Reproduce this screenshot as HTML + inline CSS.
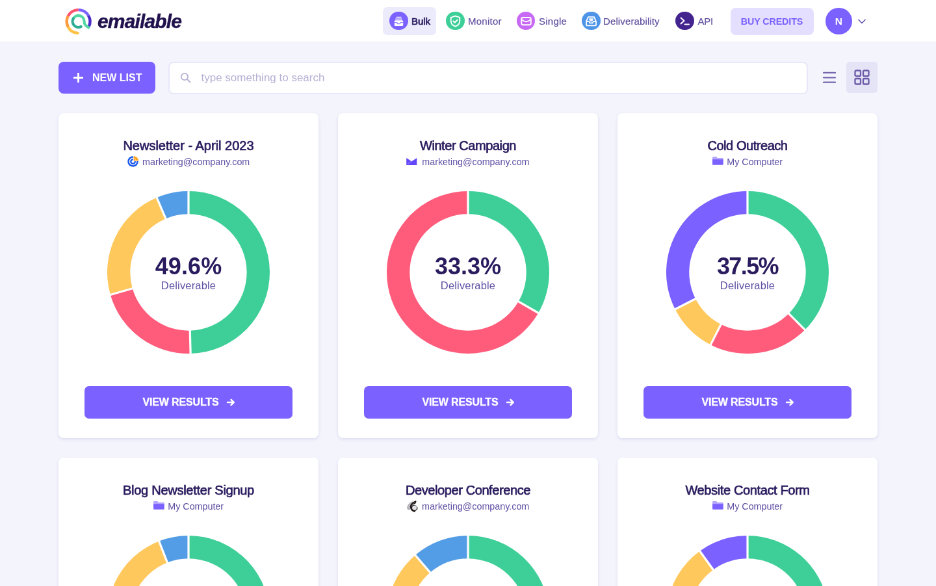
<!DOCTYPE html>
<html><head><meta charset="utf-8"><title>Emailable</title>
<style>
*{box-sizing:border-box;margin:0;padding:0}
html,body{width:936px;height:586px;overflow:hidden;background:#F4F4FD}
body{font-family:"Liberation Sans",sans-serif;color:#2A1B5E}
#app{position:absolute;left:0;top:0;width:1440px;height:902px;transform:scale(.65);transform-origin:0 0;background:#F4F4FD;will-change:transform}
#hdr{position:absolute;left:0;top:0;width:1440px;height:65px;background:#fff;border-bottom:1px solid #EBEBF8}
.abs{position:absolute}
#logo{position:absolute;left:98px;top:10px}
#brand{position:absolute;left:150px;top:12.800px;font-size:30px;font-weight:700;font-style:italic;color:#21124D;letter-spacing:-0.85px;-webkit-text-stroke:.5px #21124D;line-height:40px;white-space:nowrap}
.nav{position:absolute;top:11px;height:43px;border-radius:7px;white-space:nowrap}
.nav .ic{position:absolute;top:6.800px;width:28.500px;height:28.500px;border-radius:50%}
.nav .ic svg{position:absolute;left:.75px;top:.75px}
.nav .tx{position:absolute;top:-.5px;line-height:43px;font-size:15px;letter-spacing:.25px;color:#6252A0;white-space:nowrap;-webkit-text-stroke:.2px #6252A0}
.nav.on{background:#ECEBFB}
.nav.on .tx{color:#2A1B5E;font-weight:400;font-size:15px;letter-spacing:-.1px;-webkit-text-stroke:.7px #2A1B5E}
#buy{position:absolute;left:1123.500px;top:11.800px;width:128px;height:42px;border-radius:8px;background:#E4DFFF;color:#7B61FF;font-weight:700;font-size:14.300px;line-height:43.500px;letter-spacing:-.1px;text-align:center;white-space:nowrap}
#ava{position:absolute;left:1270px;top:12.400px;width:40.500px;height:40.500px;border-radius:50%;background:#7B61FF;color:#fff;font-weight:700;font-size:15.500px;line-height:41.500px;text-align:center}
#newlist{position:absolute;left:90px;top:95px;width:149px;height:49px;border-radius:8px;background:#7B61FF;color:#fff;font-weight:700;font-size:16px;line-height:49px;white-space:nowrap}
#search{position:absolute;left:259px;top:94.500px;width:984px;height:50px;border-radius:8px;background:#fff;border:2px solid #E8E7F9}
#search .ph{position:absolute;left:48.500px;top:0;line-height:46px;font-size:17px;color:#B5B0D3;white-space:nowrap}
#gridbtn{position:absolute;left:1302px;top:95px;width:48px;height:48px;border-radius:5px;background:#E5E4F7}
.card{position:absolute;width:400px;height:500px;background:#fff;border-radius:8px;box-shadow:0 2px 5px rgba(60,50,130,.12)}
.c0{left:90px}.c1{left:520px}.c2{left:950px}
.r0{top:174px}.r1{top:704px}
.ttl{position:absolute;left:0;top:34.600px;width:400px;text-align:center;font-size:20px;line-height:30px;color:#2A1B5E;white-space:nowrap;-webkit-text-stroke:.7px #2A1B5E}
.sub{position:absolute;left:0;top:64.300px;width:400px;height:22px;display:flex;justify-content:center;align-items:center;font-size:14.300px;color:#5F4FA3;white-space:nowrap}
.sub .sic{margin-right:6.300px;flex:none;position:relative;top:-.8px}
.chart{position:absolute;left:75px;top:119.700px;width:250px;height:250px}
.donut{position:absolute;left:0;top:0}
.pct{position:absolute;left:0;top:94.500px;width:250px;text-align:center;font-size:36px;line-height:44px;font-weight:700;color:#2A1B5E;white-space:nowrap}
.dlv{position:absolute;left:0;top:134.500px;width:250px;text-align:center;font-size:16.500px;letter-spacing:.16px;line-height:22px;color:#5F4FA3;white-space:nowrap}
.vbtn{position:absolute;left:40px;top:420px;width:320px;height:50px;border-radius:7px;letter-spacing:-.15px;background:#7B61FF;color:#fff;font-weight:700;font-size:16px;line-height:50px;display:flex;justify-content:center;align-items:center;white-space:nowrap}
.vbtn .arr{margin-left:11.500px}
.vbtn .vt{-webkit-text-stroke:.3px #fff;margin-left:1.500px}
</style></head><body><div id="app">
<div id="hdr">
<svg id="logo" width="46" height="46" viewBox="0 0 46 46" fill="none" stroke-width="4.400" stroke-linecap="butt">
<path d="M22.600 5.100A17.900 17.900 0 0 1 38.100 14.050" stroke="#7B61FF"/>
<path d="M38.100 14.050A17.900 17.900 0 0 1 38.820 30.560" stroke="#4B2CC9"/>
<path d="M21.600 40.900A17.900 17.900 0 0 1 6.650 31.130" stroke="#FFC247" stroke-linecap="round"/>
<path d="M6.650 31.130A17.900 17.900 0 0 1 6.650 14.870" stroke="#FF9A3D"/>
<path d="M6.650 14.870A17.900 17.900 0 0 1 22.600 5.100" stroke="#FF5570"/>
<path d="M14.800 18.500A9 9 0 0 1 31.600 23C31.600 27 32.600 29 38.400 32.300" stroke="#52D6A2" stroke-width="4.200" stroke-linecap="round"/>
<path d="M26.600 31A9 9 0 0 1 14.800 18.500" stroke="#2FAE94" stroke-width="4.200" stroke-linecap="round"/>
</svg>
<div id="brand">emailable</div>

<div class="nav on" style="left:589px;width:82px"><div class="ic" style="left:10px;background:#7B61FF"><svg width="27" height="27" viewBox="0 0 27 27"><path d="M9.500 6.800h8v1.700h-8zM8.300 9.600h10.400v1.700h-10.400z" fill="#fff" opacity=".85"/><rect x="6.800" y="12.300" width="13.400" height="8.600" rx="1.500" fill="#fff"/><path d="M7 15.600h3.800l1 2.100h3.400l1-2.100h3.800" fill="none" stroke="#7B61FF" stroke-width="1.300" opacity=".8"/></svg></div><div class="tx" style="left:44px">Bulk</div></div>
<div class="nav" style="left:676px;width:100px"><div class="ic" style="left:10px;background:#3ECF98"><svg width="27" height="27" viewBox="0 0 27 27"><g transform="translate(13.5 13.7) scale(1.13) translate(-13.5 -13.7)"><path d="M13.5 6.5l6 2v4.5c0 4-2.8 6.6-6 7.8c-3.200-1.200-6-3.800-6-7.800v-4.500z" fill="none" stroke="#fff" stroke-width="1.700" stroke-linejoin="round"/><path d="M10.8 13.5l2 2l3.400-3.600" fill="none" stroke="#fff" stroke-width="1.800" stroke-linecap="round" stroke-linejoin="round"/></g></svg></div><div class="tx" style="left:44px">Monitor</div></div>
<div class="nav" style="left:785px;width:90px"><div class="ic" style="left:9.800px;background:#C869F5"><svg width="27" height="27" viewBox="0 0 27 27"><rect x="6.200" y="8" width="14.600" height="11.200" rx="2.400" fill="none" stroke="#fff" stroke-width="1.900"/><path d="M7 11.400Q13.500 17.200 20 11.400" fill="none" stroke="#fff" stroke-width="1.900"/></svg></div><div class="tx" style="left:44px">Single</div></div>
<div class="nav" style="left:884px;width:140px"><div class="ic" style="left:11px;background:#4D94E8"><svg width="27" height="27" viewBox="0 0 27 27"><path d="M9 7.200h9l3 6.600v5.400a1.200 1.200 0 0 1-1.200 1.200h-12.600a1.200 1.200 0 0 1-1.200-1.200v-5.400z" fill="none" stroke="#fff" stroke-width="1.800" stroke-linejoin="round"/><path d="M6 14.200h4.300l1 2.200h4.400l1-2.200h4.300" fill="none" stroke="#fff" stroke-width="1.700"/><path d="M10.300 9.300h6.400v2.800l-3.200 2.300l-3.200-2.300z" fill="#fff" opacity=".9"/></svg></div><div class="tx" style="left:44px;letter-spacing:.12px">Deliverability</div></div>
<div class="nav" style="left:1029px;width:80px"><div class="ic" style="left:10px;background:#43248F"><svg width="27" height="27" viewBox="0 0 27 27"><path d="M7.500 8.500l5 4.500l-5 4.500" fill="none" stroke="#fff" stroke-width="2" stroke-linecap="round" stroke-linejoin="round"/><path d="M13.500 18.500h6.500" stroke="#fff" stroke-width="2" stroke-linecap="round"/></svg></div><div class="tx" style="left:44.500px;letter-spacing:-.3px">API</div></div>
<div id="buy"><span>BUY CREDITS</span></div>
<div id="ava">N</div>
<svg class="abs" style="left:1320px;top:28.300px" width="12" height="10" viewBox="0 0 12 10"><path d="M1 2.500l5 5l5-5" fill="none" stroke="#6A5AAE" stroke-width="1.700" stroke-linecap="round" stroke-linejoin="round"/></svg>
</div>

<div id="newlist"><svg class="abs" style="left:23px;top:17px" width="15" height="15" viewBox="0 0 15 15"><path d="M7.500 1v13M1 7.500h13" stroke="#fff" stroke-width="2.900" stroke-linecap="round"/></svg><span class="abs" id="nltx" style="left:52px;top:0">NEW LIST</span></div>
<div id="search"><svg class="abs" style="left:15.500px;top:14.500px" width="17" height="17" viewBox="0 0 17 17"><circle cx="7" cy="7" r="5.200" fill="none" stroke="#B5B0D3" stroke-width="1.800"/><path d="M11 11l4.500 4.500" stroke="#B5B0D3" stroke-width="1.800" stroke-linecap="round"/></svg><span class="ph">type something to search</span></div>
<svg class="abs" style="left:1266px;top:109px" width="20" height="22" viewBox="0 0 20 22"><path d="M1 2.900h18M1 10.300h18M1 17.700h18" stroke="#7666AE" stroke-width="2.200" stroke-linecap="round"/></svg>
<div id="gridbtn"><svg class="abs" style="left:12.200px;top:11.600px" width="24" height="24" viewBox="0 0 24 24" fill="none" stroke="#6C5BA8" stroke-width="2.300"><rect x="1.500" y="1.500" width="8.500" height="8.500" rx="1.500"/><rect x="14" y="1.500" width="8.500" height="8.500" rx="1.500"/><rect x="1.500" y="14" width="8.500" height="8.500" rx="1.500"/><rect x="14" y="14" width="8.500" height="8.500" rx="1.500"/></svg></div>
<div class="card c0 r0">
<div class="ttl"><span style="letter-spacing:0px">Newsletter - April 2023</span></div>
<div class="sub"><svg class="sic" width="17" height="17" viewBox="0 0 18 18"><path d="M9.600 1.600A7.400 7.400 0 1 0 16.400 8.400" fill="none" stroke="#1A59EE" stroke-width="2.700"/><path d="M9.400 5.600A3.500 3.500 0 1 0 12.500 8.600" fill="none" stroke="#1A59EE" stroke-width="2.500"/><path d="M10.200 0.200A8 8 0 0 1 17.900 7.700L10.200 7.700Z" fill="#FFA31A"/><path d="M10.200 3.900A4.600 4.600 0 0 1 14.300 7.700" fill="none" stroke="#FFD79A" stroke-width="1"/></svg><span class="st st-cc">marketing@company.com</span></div>
<div class="chart"><svg class="donut" width="250" height="250" viewBox="0 0 250 250"><path d="M125.00 0.00A125 125 0 0 1 128.14 249.96L127.25 214.67A89.7 89.7 0 0 0 125.00 35.30Z" fill="#3ECF98"/><path d="M128.14 249.96A125 125 0 0 1 4.84 159.45L38.77 149.72A89.7 89.7 0 0 0 127.25 214.67Z" fill="#FF5C7C"/><path d="M4.84 159.45A125 125 0 0 1 76.16 9.94L89.95 42.43A89.7 89.7 0 0 0 38.77 149.72Z" fill="#FFC85C"/><path d="M76.16 9.94A125 125 0 0 1 125.00 0.00L125.00 35.30A89.7 89.7 0 0 0 89.95 42.43Z" fill="#539DE6"/><path d="M125.00 -1.00L125.00 36.30" stroke="#fff" stroke-width="3.2"/><path d="M128.17 250.96L127.23 213.67" stroke="#fff" stroke-width="3.2"/><path d="M3.88 159.73L39.74 149.45" stroke="#fff" stroke-width="3.2"/><path d="M75.77 9.02L90.34 43.35" stroke="#fff" stroke-width="3.2"/></svg><div class="pct"><span style="letter-spacing:0.1px">49.6%</span></div><div class="dlv"><span>Deliverable</span></div></div>
<div class="vbtn"><span class="vt">VIEW RESULTS</span><svg class="arr" width="14" height="14" viewBox="0 0 14 14"><path d="M2 7h9.5M7.5 2.8L11.7 7L7.5 11.2" fill="none" stroke="#fff" stroke-width="2.500" stroke-linecap="round" stroke-linejoin="round"/></svg></div>
</div>
<div class="card c1 r0">
<div class="ttl"><span style="letter-spacing:-0.43px">Winter Campaign</span></div>
<div class="sub"><svg class="sic" style="margin-right:7.300px;top:-1.300px" width="16.500" height="11" viewBox="0 0 19 13"><path d="M0 0L9.500 6.300L19 0V13H0z" fill="#6347FA"/><path d="M2.500 10.500L9.500 6" stroke="#9D8CFF" stroke-width="1.200"/></svg><span class="st st-cm">marketing@company.com</span></div>
<div class="chart"><svg class="donut" width="250" height="250" viewBox="0 0 250 250"><path d="M125.00 0.00A125 125 0 0 1 233.25 187.50L202.68 169.85A89.7 89.7 0 0 0 125.00 35.30Z" fill="#3ECF98"/><path d="M233.25 187.50A125 125 0 1 1 125.00 0.00L125.00 35.30A89.7 89.7 0 1 0 202.68 169.85Z" fill="#FF5C7C"/><path d="M125.00 -1.00L125.00 36.30" stroke="#fff" stroke-width="3.2"/><path d="M234.12 188.00L201.82 169.35" stroke="#fff" stroke-width="3.2"/></svg><div class="pct"><span style="letter-spacing:0px">33.3%</span></div><div class="dlv"><span>Deliverable</span></div></div>
<div class="vbtn"><span class="vt">VIEW RESULTS</span><svg class="arr" width="14" height="14" viewBox="0 0 14 14"><path d="M2 7h9.5M7.5 2.8L11.7 7L7.5 11.2" fill="none" stroke="#fff" stroke-width="2.500" stroke-linecap="round" stroke-linejoin="round"/></svg></div>
</div>
<div class="card c2 r0">
<div class="ttl"><span style="letter-spacing:-0.45px">Cold Outreach</span></div>
<div class="sub"><svg class="sic" style="margin-right:5.200px;top:-1.700px" width="17.200" height="12.700" viewBox="0 0 19 14"><path d="M1.500 0h5.300l1.800 2.200h8.400a1.500 1.500 0 0 1 1.500 1.500v1.800h-18.500v-4a1.500 1.500 0 0 1 1.500-1.500z" fill="#B5A6FF"/><path d="M0 4.600h18.500v8a1.400 1.400 0 0 1-1.400 1.400h-15.700a1.400 1.400 0 0 1-1.400-1.400z" fill="#7B61FF"/></svg><span class="st st-folder">My Computer</span></div>
<div class="chart"><svg class="donut" width="250" height="250" viewBox="0 0 250 250"><path d="M125.00 0.00A125 125 0 0 1 213.39 213.39L188.43 188.43A89.7 89.7 0 0 0 125.00 35.30Z" fill="#3ECF98"/><path d="M213.39 213.39A125 125 0 0 1 68.25 236.38L84.28 204.92A89.7 89.7 0 0 0 188.43 188.43Z" fill="#FF5C7C"/><path d="M68.25 236.38A125 125 0 0 1 13.62 181.75L45.08 165.72A89.7 89.7 0 0 0 84.28 204.92Z" fill="#FFC85C"/><path d="M13.62 181.75A125 125 0 0 1 125.00 0.00L125.00 35.30A89.7 89.7 0 0 0 45.08 165.72Z" fill="#7B61FF"/><path d="M125.00 -1.00L125.00 36.30" stroke="#fff" stroke-width="3.2"/><path d="M214.10 214.10L187.72 187.72" stroke="#fff" stroke-width="3.2"/><path d="M67.80 237.27L84.73 204.03" stroke="#fff" stroke-width="3.2"/><path d="M12.73 182.20L45.97 165.27" stroke="#fff" stroke-width="3.2"/></svg><div class="pct"><span style="letter-spacing:-1.6px">37.5%</span></div><div class="dlv"><span>Deliverable</span></div></div>
<div class="vbtn"><span class="vt">VIEW RESULTS</span><svg class="arr" width="14" height="14" viewBox="0 0 14 14"><path d="M2 7h9.5M7.5 2.8L11.7 7L7.5 11.2" fill="none" stroke="#fff" stroke-width="2.500" stroke-linecap="round" stroke-linejoin="round"/></svg></div>
</div>
<div class="card c0 r1">
<div class="ttl"><span style="letter-spacing:-0.27px">Blog Newsletter Signup</span></div>
<div class="sub"><svg class="sic" style="margin-right:5.200px;top:-1.700px" width="17.200" height="12.700" viewBox="0 0 19 14"><path d="M1.500 0h5.300l1.800 2.200h8.400a1.500 1.500 0 0 1 1.500 1.500v1.800h-18.500v-4a1.500 1.500 0 0 1 1.500-1.500z" fill="#B5A6FF"/><path d="M0 4.600h18.500v8a1.400 1.400 0 0 1-1.400 1.400h-15.700a1.400 1.400 0 0 1-1.400-1.400z" fill="#7B61FF"/></svg><span class="st st-folder">My Computer</span></div>
<div class="chart"><svg class="donut" width="250" height="250" viewBox="0 0 250 250"><path d="M125.00 0.00A125 125 0 1 1 109.77 249.07L114.07 214.03A89.7 89.7 0 1 0 125.00 35.30Z" fill="#3ECF98"/><path d="M109.77 249.07A125 125 0 0 1 7.54 167.75L40.71 155.68A89.7 89.7 0 0 0 114.07 214.03Z" fill="#FF5C7C"/><path d="M7.54 167.75A125 125 0 0 1 79.59 8.54L92.42 41.43A89.7 89.7 0 0 0 40.71 155.68Z" fill="#FFC85C"/><path d="M79.59 8.54A125 125 0 0 1 125.00 0.00L125.00 35.30A89.7 89.7 0 0 0 92.42 41.43Z" fill="#539DE6"/><path d="M125.00 -1.00L125.00 36.30" stroke="#fff" stroke-width="3.2"/><path d="M109.64 250.06L114.19 213.04" stroke="#fff" stroke-width="3.2"/><path d="M6.60 168.09L41.65 155.34" stroke="#fff" stroke-width="3.2"/><path d="M79.23 7.61L92.78 42.36" stroke="#fff" stroke-width="3.2"/></svg><div class="pct"><span style="letter-spacing:0px">52.1%</span></div><div class="dlv"><span>Deliverable</span></div></div>
<div class="vbtn"><span class="vt">VIEW RESULTS</span><svg class="arr" width="14" height="14" viewBox="0 0 14 14"><path d="M2 7h9.5M7.5 2.8L11.7 7L7.5 11.2" fill="none" stroke="#fff" stroke-width="2.500" stroke-linecap="round" stroke-linejoin="round"/></svg></div>
</div>
<div class="card c1 r1">
<div class="ttl"><span style="letter-spacing:-0.41px">Developer Conference</span></div>
<div class="sub"><svg class="sic" width="17" height="18" viewBox="0 0 17 18"><ellipse cx="5.400" cy="8" rx="3.900" ry="7" transform="rotate(36 5.400 8)" fill="#a9a8b0"/><path d="M2.500 6l5-4M1.800 9.500l6-5M2.500 12l4-3.500" stroke="#e6e6ea" stroke-width="0.900"/><path d="M8 1.200L9.800 0.500" stroke="#d8d8dc" stroke-width="1.500"/><circle cx="11.600" cy="11.300" r="4.200" fill="#e4e4e8" stroke="#2a2424" stroke-width="1.400"/><path d="M11 6.500a4.600 4.600 0 0 1 5.200 4" fill="none" stroke="#fff" stroke-width="1.300"/><path d="M13.300 1.500C10.500 2.200 9.800 3.200 8.600 4.600C6.800 6.600 5.400 7.200 5.900 9.200C6.400 11.400 6.300 13.200 8 14.800C9.200 16 10.400 16.700 11.800 16.600" fill="none" stroke="#231a1a" stroke-width="2.300" stroke-linecap="round" stroke-linejoin="round"/><path d="M13.400 1.600C13.600 3 12.500 4.300 11 5" fill="none" stroke="#231a1a" stroke-width="1.600" stroke-linecap="round"/></svg><span class="st st-mc">marketing@company.com</span></div>
<div class="chart"><svg class="donut" width="250" height="250" viewBox="0 0 250 250"><path d="M125.00 0.00A125 125 0 0 1 140.23 249.07L135.93 214.03A89.7 89.7 0 0 0 125.00 35.30Z" fill="#3ECF98"/><path d="M140.23 249.07A125 125 0 0 1 16.75 187.50L47.32 169.85A89.7 89.7 0 0 0 135.93 214.03Z" fill="#FF5C7C"/><path d="M16.75 187.50A125 125 0 0 1 43.82 29.95L66.74 56.79A89.7 89.7 0 0 0 47.32 169.85Z" fill="#FFC85C"/><path d="M43.82 29.95A125 125 0 0 1 125.00 0.00L125.00 35.30A89.7 89.7 0 0 0 66.74 56.79Z" fill="#539DE6"/><path d="M125.00 -1.00L125.00 36.30" stroke="#fff" stroke-width="3.2"/><path d="M140.36 250.06L135.81 213.04" stroke="#fff" stroke-width="3.2"/><path d="M15.88 188.00L48.18 169.35" stroke="#fff" stroke-width="3.2"/><path d="M43.17 29.19L67.39 57.55" stroke="#fff" stroke-width="3.2"/></svg><div class="pct"><span style="letter-spacing:0px">48.0%</span></div><div class="dlv"><span>Deliverable</span></div></div>
<div class="vbtn"><span class="vt">VIEW RESULTS</span><svg class="arr" width="14" height="14" viewBox="0 0 14 14"><path d="M2 7h9.5M7.5 2.8L11.7 7L7.5 11.2" fill="none" stroke="#fff" stroke-width="2.500" stroke-linecap="round" stroke-linejoin="round"/></svg></div>
</div>
<div class="card c2 r1">
<div class="ttl"><span style="letter-spacing:-0.37px">Website Contact Form</span></div>
<div class="sub"><svg class="sic" style="margin-right:5.200px;top:-1.700px" width="17.200" height="12.700" viewBox="0 0 19 14"><path d="M1.500 0h5.300l1.800 2.200h8.400a1.500 1.500 0 0 1 1.500 1.500v1.800h-18.500v-4a1.500 1.500 0 0 1 1.500-1.500z" fill="#B5A6FF"/><path d="M0 4.600h18.500v8a1.400 1.400 0 0 1-1.400 1.400h-15.700a1.400 1.400 0 0 1-1.400-1.400z" fill="#7B61FF"/></svg><span class="st st-folder">My Computer</span></div>
<div class="chart"><svg class="donut" width="250" height="250" viewBox="0 0 250 250"><path d="M125.00 0.00A125 125 0 0 1 163.63 243.88L152.72 210.31A89.7 89.7 0 0 0 125.00 35.30Z" fill="#3ECF98"/><path d="M163.63 243.88A125 125 0 0 1 29.24 205.35L56.29 182.66A89.7 89.7 0 0 0 152.72 210.31Z" fill="#FF5C7C"/><path d="M29.24 205.35A125 125 0 0 1 51.53 23.87L72.28 52.43A89.7 89.7 0 0 0 56.29 182.66Z" fill="#FFC85C"/><path d="M51.53 23.87A125 125 0 0 1 125.00 0.00L125.00 35.30A89.7 89.7 0 0 0 72.28 52.43Z" fill="#7B61FF"/><path d="M125.00 -1.00L125.00 36.30" stroke="#fff" stroke-width="3.2"/><path d="M163.94 244.83L152.41 209.36" stroke="#fff" stroke-width="3.2"/><path d="M28.48 205.99L57.05 182.02" stroke="#fff" stroke-width="3.2"/><path d="M50.94 23.06L72.86 53.24" stroke="#fff" stroke-width="3.2"/></svg><div class="pct"><span style="letter-spacing:0px">45.0%</span></div><div class="dlv"><span>Deliverable</span></div></div>
<div class="vbtn"><span class="vt">VIEW RESULTS</span><svg class="arr" width="14" height="14" viewBox="0 0 14 14"><path d="M2 7h9.5M7.5 2.8L11.7 7L7.5 11.2" fill="none" stroke="#fff" stroke-width="2.500" stroke-linecap="round" stroke-linejoin="round"/></svg></div>
</div></div></body></html>
